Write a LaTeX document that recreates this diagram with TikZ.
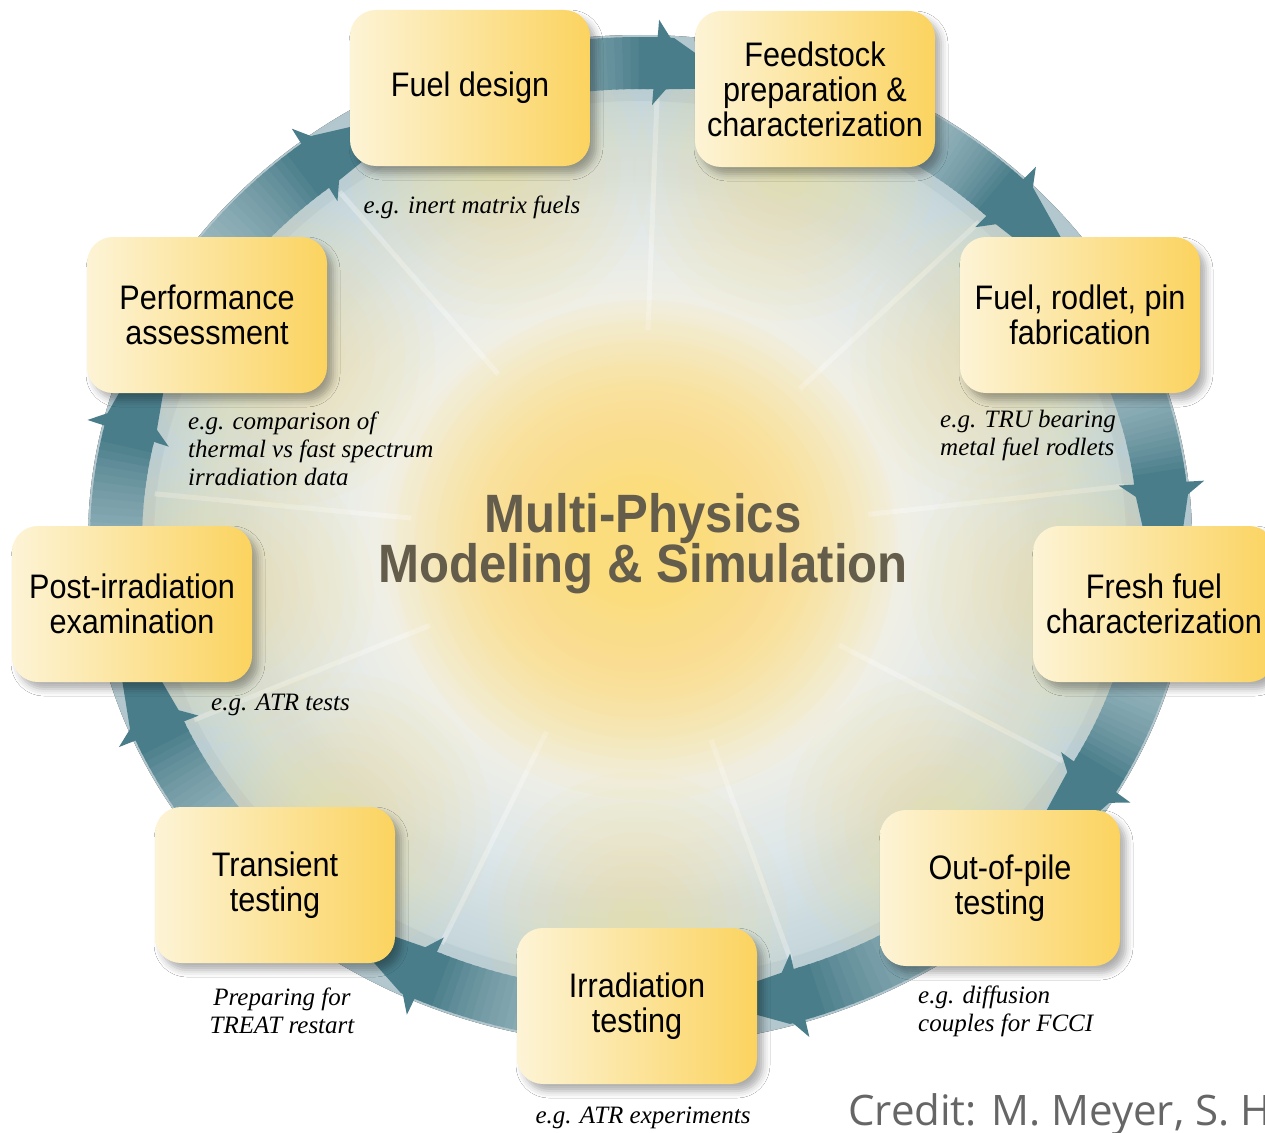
\documentclass[tikz,border=0pt]{standalone}
\usepackage{fontspec}
\usetikzlibrary{arrows.meta,shadows.blur,calc}
\newfontfamily\boxfont[FakeStretch=0.9]{Liberation Sans}
\newfontfamily\titlefont[FakeStretch=0.91]{Liberation Sans}
\newfontfamily\labelfont{Liberation Serif}
\newfontfamily\creditfont{Open Sans}

\definecolor{boxL}{HTML}{FDF4D6}
\definecolor{boxR}{HTML}{FBD35F}
\definecolor{arrowdark}{HTML}{497D8A}
\definecolor{arrowlight}{HTML}{A3BDC4}
\definecolor{trackc}{HTML}{B3C8CE}
\definecolor{titlec}{HTML}{655D4C}
\definecolor{creditc}{HTML}{666666}
\definecolor{glowc}{HTML}{FBDD7E}
\definecolor{dA}{HTML}{FBDF88}
\definecolor{dB}{HTML}{F9E6AC}
\definecolor{dC}{HTML}{F0EFE6}
\definecolor{dD}{HTML}{DCE6E9}
\definecolor{dE}{HTML}{C4D5DA}
\definecolor{dF}{HTML}{B1C6CD}

\pgfdeclareradialshading{discshade}{\pgfpoint{0bp}{0bp}}{color(0bp)=(dA); color(3bp)=(dA); color(7.5bp)=(dB); color(12bp)=(dC); color(17bp)=(dD); color(22bp)=(dE); color(25bp)=(dF); color(50bp)=(dF)}

\tikzset{
  stage/.style={rectangle, rounded corners=26pt, minimum width=240pt, minimum height=156pt,
    left color=boxL, right color=boxR,
    blur shadow={shadow xshift=6pt, shadow yshift=-7pt, shadow blur radius=7pt, shadow opacity=32},
    align=center, font=\boxfont\fontsize{34}{35}\selectfont, text=black, inner sep=0pt},
  note/.style={font=\labelfont\itshape\fontsize{25}{28}\selectfont, align=left, inner sep=0pt, text=black},
  titletext/.style={font=\titlefont\bfseries\fontsize{54}{52}\selectfont, text=titlec, inner sep=0pt},
  arrowbody/.style={line width=52pt},
  glowdisc/.style={fill=glowc, fill opacity=0.06},
  boxglow/.style={fill=glowc, fill opacity=0.055},
  spoke/.style={draw=white, line width=5pt, opacity=0.3},
}

\newcommand\ringarrow[2]{%
  \pgfmathsetmacro\rsS{#1}%
  \pgfmathsetmacro\rsT{#2}%
  \pgfmathsetmacro\rsH{#2-4.5}%
  \foreach \k in {0,...,23}{%
    \pgfmathsetmacro\rsA{\rsS+(\rsH-\rsS)*\k/24}%
    \pgfmathsetmacro\rsB{\rsS+(\rsH-\rsS)*(\k+1)/24+0.3}%
    \pgfmathtruncatemacro\rsM{5+95*(\k/23)^2}%
    \draw[arrowbody, draw=arrowdark!\rsM!arrowlight] ($(ctr)+(\rsA:524 and 477)$) arc[start angle=\rsA, end angle=\rsB, x radius=524, y radius=477];%
  }%
  \draw[arrowbody, draw=arrowdark, -{Triangle[width=84pt,length=32pt]}] ($(ctr)+(\rsH:524 and 477)$) arc[start angle=\rsH, end angle=\rsT, x radius=524, y radius=477];%
}

\begin{document}
\begin{tikzpicture}[x=1pt,y=-1pt]
\useasboundingbox (0,0) rectangle (1265,1132);
\clip (0,0) rectangle (1265,1132);
\fill[white] (0,0) rectangle (1265,1132);
\coordinate (ctr) at (640,540);

% disc and track
\fill[shading=discshade] (ctr) ellipse[x radius=552, y radius=505];
\draw[trackc, line width=66pt, opacity=0.5] (ctr) ellipse[x radius=519, y radius=472];

% spokes
\foreach \a in {-88,-46,-7,30,72,114,156,186,232}
  \draw[spoke] ($(ctr)+(\a:230 and 210)$) -- ($(ctr)+(\a:488 and 442)$);

% box positions
\coordinate (pfd) at (470,88);
\coordinate (pfs) at (815,89);
\coordinate (pfr) at (1080,315);
\coordinate (pff) at (1154,604);
\coordinate (pop) at (1000,888);
\coordinate (pir) at (637,1006);
\coordinate (ptt) at (275,885);
\coordinate (ppie) at (132,604);
\coordinate (ppa) at (207,315);

% soft yellow glows, kept inside the disc
\begin{scope}
\clip (ctr) ellipse[x radius=500, y radius=455];
\foreach \r in {250,230,...,30}
  \fill[glowdisc] (645,550) circle[radius=\r];
\foreach \p in {pfd,pfs,pfr,pff,pop,pir,ptt,ppie,ppa}
  \foreach \r in {150,135,...,15}
    \fill[boxglow] ($(ctr)!0.82!(\p)$) circle[radius=\r];
\end{scope}

% arrows along the ring
\ringarrow{-110}{-84.8}
\ringarrow{-62}{-42.2}
\ringarrow{-25}{-3}
\ringarrow{10}{33.5}
\ringarrow{45}{75.8}
\ringarrow{92}{117.7}
\ringarrow{135}{160.2}
\ringarrow{170}{196.7}
\ringarrow{210}{235.3}

% stages
\node[stage] (fd) at (pfd) {Fuel design};
\node[stage] (fs) at (pfs) {Feedstock\\preparation \&\\characterization};
\node[stage] (fr) at (pfr) {Fuel, rodlet, pin\\fabrication};
\node[stage, minimum width=242pt] (ff) at (pff) {Fresh fuel\\characterization};
\node[stage] (op) at (pop) {Out-of-pile\\testing};
\node[stage] (ir) at (pir) {Irradiation\\testing};
\node[stage] (tt) at (ptt) {Transient\\testing};
\node[stage] (pie) at (ppie) {Post-irradiation\\examination};
\node[stage] (pa) at (ppa) {Performance\\assessment};

% notes
\node[note] (n1) at (472,207) {e.g. inert matrix fuels};
\node[note, anchor=west] (n2) at (940,435) {e.g. TRU bearing\\metal fuel rodlets};
\node[note, anchor=west] (n3) at (918,1011) {e.g. diffusion\\couples for FCCI};
\node[note] (n4) at (643,1118) {e.g. ATR experiments};
\node[note, align=center] (n5) at (282,1011) {Preparing for\\TREAT restart};
\node[note, anchor=west] (n6) at (211,705) {e.g. ATR tests};
\node[note, anchor=west] (n7) at (188,449) {e.g. comparison of\\thermal vs fast spectrum\\irradiation data};

% title
\node[titletext, anchor=base] (t1) at (643,532) {Multi-Physics};
\node[titletext, anchor=base] (t2) at (643,582) {Modeling \& Simulation};

% credit
\node[font=\creditfont\fontsize{42}{42}\selectfont, text=creditc, anchor=base west, inner sep=0pt] (cr) at (848,1125) {Credit: M. Meyer, S. H};
\end{tikzpicture}
\end{document}
